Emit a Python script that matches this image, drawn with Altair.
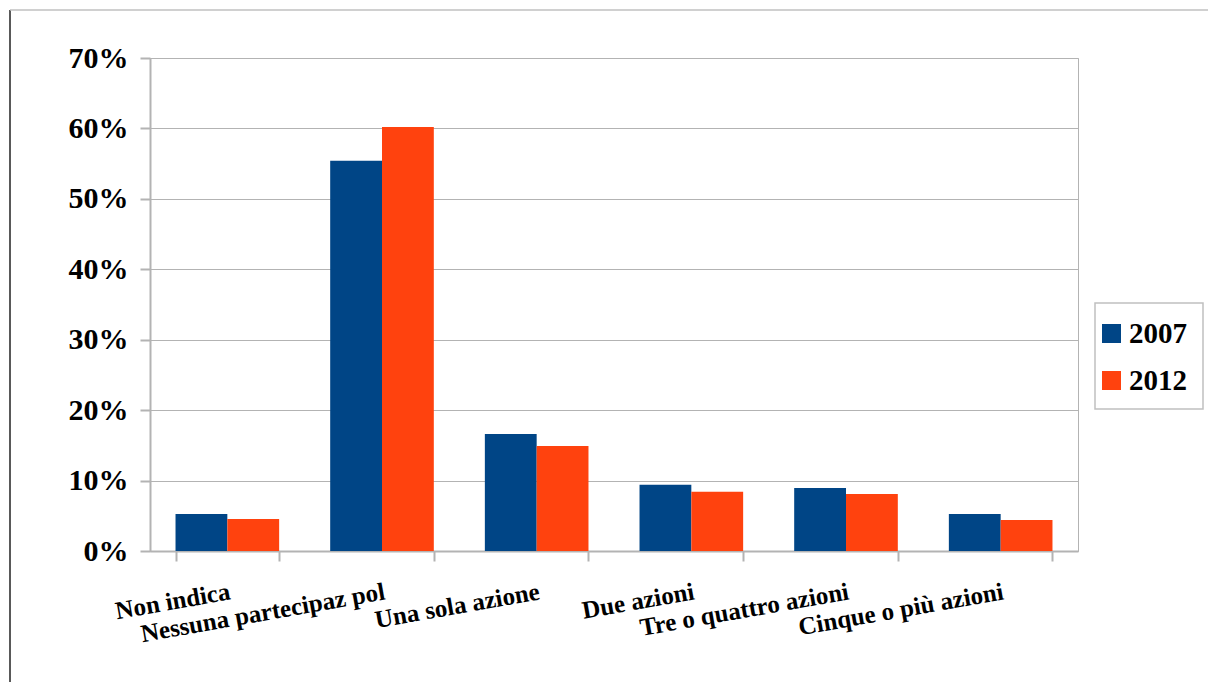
import altair as alt
import pandas as pd

# Survey categories: number of political participation actions
categories = [
    "Non indica",
    "Nessuna partecipaz pol",
    "Una sola azione",
    "Due azioni",
    "Tre o quattro azioni",
    "Cinque o più azioni",
]
years = ["2007", "2012"]
share_2007 = [5.25, 55.4, 16.6, 9.4, 8.95, 5.25]
share_2012 = [4.55, 60.2, 14.9, 8.4, 8.1, 4.4]
y_ticks = [0, 10, 20, 30, 40, 50, 60, 70]

rows = []
for cat, a, b in zip(categories, share_2007, share_2012):
    rows.append({"categoria": cat, "anno": years[0], "quota": a})
    rows.append({"categoria": cat, "anno": years[1], "quota": b})
df = pd.DataFrame(rows)

FONT = "Liberation Serif"
GRID = "#b3b3b3"
W, H = 928, 493

bars = alt.Chart(df).mark_bar().encode(
    x=alt.X(
        "categoria:N",
        sort=categories,
        scale=alt.Scale(paddingInner=0.33, paddingOuter=0.165),
        axis=alt.Axis(
            title=None,
            labelAngle=350,
            labelAlign="right",
            labelBaseline="top",
            labelPadding=18,
            labelFontSize=25,
            labelLimit=0,
            tickBand="extent",
            tickSize=10,
            tickWidth=2,
            tickColor=GRID,
            domainColor=GRID,
            domainWidth=2,
            grid=False,
        ),
    ),
    xOffset=alt.XOffset("anno:N", scale=alt.Scale(paddingInner=0, paddingOuter=0)),
    y=alt.Y(
        "quota:Q",
        scale=alt.Scale(domain=[0, 70]),
        axis=alt.Axis(
            title=None,
            values=y_ticks,
            labelExpr="datum.value + '%'",
            labelFontSize=30,
            labelPadding=12,
            tickSize=10,
            tickWidth=2,
            tickColor=GRID,
            domainColor=GRID,
            domainWidth=2,
            grid=True,
            gridColor=GRID,
            gridWidth=1,
        ),
    ),
    color=alt.Color(
        "anno:N",
        scale=alt.Scale(domain=years, range=["#004586", "#ff420e"]),
        legend=alt.Legend(
            title=None,
            orient="none",
            legendX=947,
            legendY=261,
            symbolType="square",
            symbolSize=361,
            symbolStrokeWidth=0,
            labelFontSize=29,
            labelFont=FONT,
            labelFontWeight="bold",
            labelOffset=3,
            rowPadding=17,
            padding=0,
        ),
    ),
)

frame = alt.Data(values=[{}])
# legend frame
legend_box = alt.Chart(frame).mark_rect(
    fill="white", fillOpacity=0, stroke="#c0c0c0", strokeWidth=1.5
).encode(x=alt.value(945), x2=alt.value(1053), y=alt.value(245), y2=alt.value(351))
left_edge = alt.Chart(frame).mark_rule(color="#222222", strokeWidth=1.5).encode(
    x=alt.value(-140), y=alt.value(-48), y2=alt.value(H + 131)
)
top_edge = alt.Chart(frame).mark_rule(color="#c0c0c0", strokeWidth=1.5).encode(
    x=alt.value(-140), x2=alt.value(W + 130), y=alt.value(-48)
)

chart = (
    alt.layer(bars, legend_box, left_edge, top_edge)
    .properties(
        width=W,
        height=H,
        autosize=alt.AutoSizeParams(type="none"),
        padding={"left": 150, "top": 58, "right": 130, "bottom": 131},
        background="white",
    )
    .configure_view(stroke=GRID, strokeWidth=1)
    .configure_axis(labelFont=FONT, labelFontWeight="bold", labelColor="black")
)

chart.save("out.html", embed_options={"renderer": "svg", "actions": False})
